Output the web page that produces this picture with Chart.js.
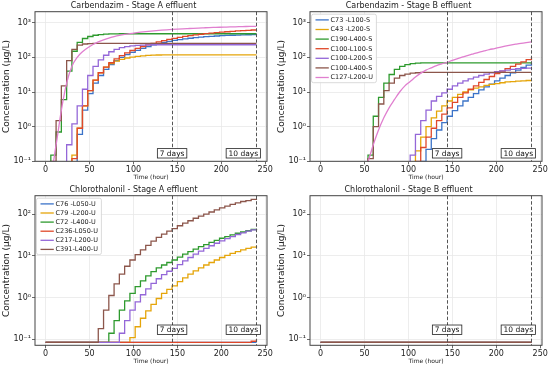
<!DOCTYPE html>
<html>
<head>
<meta charset="utf-8">
<script src="https://cdn.jsdelivr.net/npm/chart.js@4.4.1/dist/chart.umd.min.js"></script>
<style>
  html, body { margin: 0; padding: 0; background: #fff; }
  #wrap { position: relative; width: 550px; height: 368px; }
  .cell { position: absolute; width: 275px; height: 184px; }
</style>
</head>
<body>
<div id="wrap">
  <div class="cell" style="left:0;top:0"><canvas id="cA" width="275" height="184"></canvas></div>
  <div class="cell" style="left:275px;top:0"><canvas id="cB" width="275" height="184"></canvas></div>
  <div class="cell" style="left:0;top:184px"><canvas id="cC" width="275" height="184"></canvas></div>
  <div class="cell" style="left:275px;top:184px"><canvas id="cD" width="275" height="184"></canvas></div>
</div>
<script>
// time axis (hours), one value every dosing step
const hours = [0,6,12,18,24,30,36,42,48,54,60,66,72,78,84,90,96,102,108,114,120,
               126,132,138,144,150,156,162,168,174,180,186,192,198,204,210,216,222,228,234,240];
const xTicks = [0, 50, 100, 150, 200, 250];
const yTicksTop = [0.1, 1, 10, 100, 1000];
const yTicksBottom = [0.1, 1, 10, 100];
const yTickText = { '0.1': '10⁻¹', '1': '10⁰', '10': '10¹', '100': '10²', '1000': '10³' };
const markerHours = [144, 240];
const markerText = ['7 days', '10 days'];

// Carbendazim
const carbLabels = ['C73 -L100-S', 'C43 -L200-S', 'C190-L400-S', 'C100-L100-S', 'C100-L200-S', 'C100-L400-S', 'C127-L200-U'];

const carbA_c73 = [0.05,0.05,0.05,0.05,0.05,0.08,0.6,3,9,18,30,45,62,80,100,120,140,160,182,205,228,
                   250,270,290,308,325,341,356,370,383,395,405,414,422,429,435,440,445,449,452,455];
const carbA_c43 = [0.05,0.05,0.05,0.05,0.05,0.15,0.9,4,11,22,36,52,66,78,88,96,102,107,111,114,116,
                   117,118,118,118,118,118,118,118,118,118,118,118,118,118,118,118,118,118,118,118];
const carbA_c190 = [0.05,0.15,0.7,6,40,150,270,350,400,435,455,467,474,478,480,480,480,480,480,480,480,
                    480,480,480,480,480,480,480,480,480,480,480,480,480,480,480,480,480,480,480,480];
const carbA_c100a = [0.05,0.05,0.05,0.05,0.05,0.12,0.9,4,11,22,36,52,70,90,112,135,158,182,206,230,255,
                     280,305,330,354,378,401,423,444,464,483,501,518,534,549,564,578,592,605,617,628];
const carbA_c100b = [0.05,0.05,0.05,0.05,0.3,1.2,4,12,30,55,85,115,145,170,190,204,214,221,226,229,231,
                     231,231,231,231,231,231,231,231,231,231,231,231,231,231,231,231,231,231,231,231];
const carbA_c100c = [0.05,0.1,1.5,15,80,170,225,243,250,252,252,252,252,252,252,252,252,252,252,252,252,
                     252,252,252,252,252,252,252,252,252,252,252,252,252,252,252,252,252,252,252,252];
const carbA_c127 = [0.05,0.05,0.3,3,18,55,100,145,190,235,280,320,360,395,428,458,485,510,533,554,574,
                    592,609,625,640,654,667,679,691,702,712,722,731,740,748,756,763,770,777,783,789];

const carbB_c73 = [0.05,0.05,0.05,0.05,0.05,0.05,0.05,0.05,0.05,0.05,0.05,0.05,0.05,0.05,0.05,0.05,0.05,0.05,0.05,0.1,0.22,
                   0.45,0.8,1.3,2,2.9,4,5.5,7,9,11.5,14,17,21,25,30,36,43,51,60,70];
const carbB_c43 = [0.05,0.05,0.05,0.05,0.05,0.05,0.05,0.05,0.05,0.05,0.05,0.05,0.05,0.05,0.05,0.05,0.05,0.08,0.2,0.5,1,
                   1.8,2.8,4,5.5,7,8.5,10,11.5,13,14,15.5,16.5,17.5,18.5,19.5,20,20.5,21,21.5,22];
const carbB_c190 = [0.05,0.05,0.05,0.05,0.05,0.05,0.05,0.05,0.05,0.15,2,7,18,32,45,55,62,66,68,69,69,
                    69,69,69,69,69,69,69,69,69,69,69,69,69,69,69,69,69,69,69,69];
const carbB_c100a = [0.05,0.05,0.05,0.05,0.05,0.05,0.05,0.05,0.05,0.05,0.05,0.05,0.05,0.05,0.05,0.05,0.05,0.05,0.1,0.25,0.5,
                     0.9,1.5,2.3,3.5,5,7,9.5,12,15,19,23,28,34,40,47,55,64,74,86,100];
const carbB_c100b = [0.05,0.05,0.05,0.05,0.05,0.05,0.05,0.05,0.05,0.05,0.05,0.05,0.05,0.05,0.05,0.05,0.05,0.15,0.6,1.5,3,
                     5.5,7.5,9.5,12,15,18,21,24,27,30,33,36,39,41,43,45,47,48,49,50];
const carbB_c100c = [0.05,0.05,0.05,0.05,0.05,0.05,0.05,0.05,0.05,0.12,1,4.5,11,18,25,30,33,35,36,37,37,
                     37,37,37,37,37,37,37,37,37,37,37,37,37,37,37,37,37,37,37,37];
const carbB_c127 = [0.05,0.05,0.05,0.05,0.05,0.05,0.05,0.05,0.05,0.1,0.3,0.8,1.8,3.5,6,10,15,20,27,35,43,
                    50,58,65,72,82,92,103,115,127,140,153,167,180,195,210,225,240,255,268,280];

// Chlorothalonil
const chloroLabels = ['C76 -L050-U', 'C79 -L200-U', 'C72 -L400-U', 'C236-L050-U', 'C217-L200-U', 'C391-L400-U'];

const chloroA_c76 = [0.085,0.085,0.085,0.085,0.085,0.085,0.085,0.085,0.085,0.085,0.085,0.085,0.085,0.085,0.085,0.085,0.085,0.085,0.085,0.085,0.085,
                     0.085,0.085,0.085,0.085,0.085,0.085,0.085,0.085,0.085,0.085,0.085,0.085,0.085,0.085,0.085,0.085,0.085,0.085,0.085,0.085];
const chloroA_c79 = [0.085,0.085,0.085,0.085,0.085,0.085,0.085,0.085,0.085,0.085,0.085,0.085,0.085,0.085,0.085,0.085,0.11,0.2,0.32,0.48,0.69,
                     0.95,1.26,1.58,1.91,2.4,2.95,3.63,4.37,5.13,6.03,6.92,7.94,9.12,10.2,11.5,12.6,13.8,15.1,16.2,17.4];
const chloroA_c72 = [0.085,0.085,0.085,0.085,0.085,0.085,0.085,0.085,0.085,0.085,0.085,0.085,0.14,0.28,0.5,0.83,1.26,1.82,2.51,3.31,4.17,
                     5.13,6.03,6.92,7.94,9.33,11,12.6,14.5,16.6,18.6,20.9,23.4,26.3,28.8,31.6,34.7,37.2,39.8,42.7,44.7];
const chloroA_c236 = [0.085,0.085,0.085,0.085,0.085,0.085,0.085,0.085,0.085,0.085,0.085,0.085,0.085,0.085,0.085,0.085,0.085,0.085,0.085,0.085,0.085,
                      0.085,0.085,0.085,0.085,0.085,0.085,0.085,0.085,0.085,0.085,0.085,0.085,0.085,0.085,0.085,0.085,0.085,0.085,0.09,0.1];
const chloroA_c217 = [0.085,0.085,0.085,0.085,0.085,0.085,0.085,0.085,0.085,0.085,0.085,0.085,0.085,0.085,0.14,0.28,0.5,0.79,1.17,1.62,2.19,
                      2.82,3.55,4.27,5.01,6.17,7.59,9.12,11,12.9,15.1,17.4,20,22.9,25.7,28.8,32.4,35.5,38.9,41.7,44.7];
const chloroA_c391 = [0.085,0.085,0.085,0.085,0.085,0.085,0.085,0.085,0.085,0.085,0.18,0.5,1.12,2.14,3.63,5.62,7.94,10.7,13.8,17.8,22.4,
                      27.5,33.1,38.9,44.7,52.5,60.3,69.2,79.4,89.1,100,112,126,141,155,170,186,200,209,224,234];

const chloroB_floor = [0.085,0.085,0.085,0.085,0.085,0.085,0.085,0.085,0.085,0.085,0.085,0.085,0.085,0.085,0.085,0.085,0.085,0.085,0.085,0.085,0.085,
                       0.085,0.085,0.085,0.085,0.085,0.085,0.085,0.085,0.085,0.085,0.085,0.085,0.085,0.085,0.085,0.085,0.085,0.085,0.085,0.085];

const palette = ['#3b73c8', '#e5a50a', '#2e9a2e', '#e0482a', '#9467d8', '#8c564b', '#e07fcf'];
const FONT = 'DejaVu Sans';
Chart.defaults.font.family = FONT;

// frame, 7/10 day markers and an in-axes legend, drawn like the matplotlib figure
const decor = {
  id: 'decor',
  afterDatasetsDraw(chart, args, opts) {
    const { ctx, chartArea: a, scales: { x, y } } = chart;
    ctx.save();
    ctx.strokeStyle = '#555';
    ctx.lineWidth = 1;
    ctx.setLineDash([3.5, 2]);
    markerHours.forEach(h => {
      const px = Math.round(x.getPixelForValue(h)) + 0.5;
      ctx.beginPath(); ctx.moveTo(px, a.top); ctx.lineTo(px, a.bottom); ctx.stroke();
    });
    ctx.setLineDash([]);
    ctx.strokeStyle = '#444';
    ctx.strokeRect(a.left, a.top, a.width, a.height);

    ctx.font = '7.5px "' + FONT + '"';
    ctx.textBaseline = 'middle';
    ctx.textAlign = 'center';
    opts.textX.forEach((tx, i) => {
      const cx = x.getPixelForValue(tx);
      const cy = y.getPixelForValue(0.17);
      const w = ctx.measureText(markerText[i]).width + 4.6;
      ctx.fillStyle = '#fff';
      ctx.fillRect(cx - w / 2, cy - 4.7, w, 9.4);
      ctx.strokeStyle = '#222';
      ctx.lineWidth = 0.8;
      ctx.strokeRect(cx - w / 2, cy - 4.7, w, 9.4);
      ctx.fillStyle = '#111';
      ctx.fillText(markerText[i], cx, cy + 0.3);
    });

    if (opts.legend) {
      const sets = chart.data.datasets;
      const rowH = opts.rowH;
      ctx.font = '6.5px "' + FONT + '"';
      const tw = Math.max(...sets.map(d => ctx.measureText(d.label).width));
      const bx = a.left + 1.5, by = a.top + 2.5;
      const bw = 19 + tw + 3.5, bh = 5.7 + (sets.length - 1) * rowH + 5.2;
      ctx.fillStyle = 'rgba(255,255,255,0.85)';
      ctx.strokeStyle = '#d0d0d0';
      ctx.lineWidth = 0.8;
      ctx.beginPath();
      ctx.roundRect(bx, by, bw, bh, 2);
      ctx.fill(); ctx.stroke();
      ctx.textAlign = 'left';
      sets.forEach((d, i) => {
        const cy = by + 5.7 + i * rowH;
        ctx.strokeStyle = d.borderColor;
        ctx.lineWidth = 1.3;
        ctx.beginPath(); ctx.moveTo(bx + 4, cy); ctx.lineTo(bx + 17.3, cy); ctx.stroke();
        ctx.fillStyle = '#222';
        ctx.fillText(d.label, bx + 19, cy + 0.3);
      });
    }
    ctx.restore();
  }
};

function buildSets(labels, series, smoothIdx) {
  return series.map((vals, i) => ({
    label: labels[i],
    data: vals.map((v, k) => ({ x: hours[k], y: v })),
    borderColor: palette[i],
    backgroundColor: palette[i],
    borderWidth: 1.3,
    pointRadius: 0,
    stepped: i === smoothIdx ? false : 'before',
    cubicInterpolationMode: 'monotone',
    fill: false,
    order: -i
  }));
}

function makeChart(id, title, datasets, yMin, yMax, yTicks, legend, rowH) {
  new Chart(document.getElementById(id), {
    type: 'line',
    data: { datasets },
    plugins: [decor],
    options: {
      responsive: false,
      animation: false,
      devicePixelRatio: 1,
      layout: { padding: { left: 0, right: 8, top: 0, bottom: 0 } },
      plugins: {
        legend: { display: false },
        tooltip: { enabled: false },
        title: {
          display: true, text: title, color: '#222',
          font: { size: 8, weight: 'normal' },
          padding: { top: 1.2, bottom: 0.9 }
        },
        decor: { legend, rowH, textX: [144, 225] }
      },
      scales: {
        x: {
          type: 'linear', min: -12, max: 252,
          afterBuildTicks: s => { s.ticks = xTicks.map(v => ({ value: v })); },
          afterFit: s => { s.height = 22.7; },
          grid: { color: '#e8e8e8', lineWidth: 0.8, tickLength: 3, tickColor: '#444' },
          border: { display: false },
          ticks: { color: '#222', font: { size: 8 }, padding: 0.5, maxRotation: 0, autoSkip: false },
          title: { display: true, text: 'Time (hour)', color: '#222', font: { size: 6 }, padding: { top: 0, bottom: 2.7 } }
        },
        y: {
          type: 'logarithmic', min: yMin, max: yMax,
          afterBuildTicks: s => { s.ticks = yTicks.map(v => ({ value: v })); },
          afterFit: s => { s.width = 35; },
          grid: { color: '#e8e8e8', lineWidth: 0.8, tickLength: 3, tickColor: '#444' },
          border: { display: false },
          ticks: { color: '#222', font: { size: 8 }, padding: 1, autoSkip: false,
                   callback: v => yTickText[String(v)] || '' },
          title: { display: true, text: 'Concentration (µg/L)', color: '#222', font: { size: 9 }, padding: { top: 1.2, bottom: 0 } }
        }
      }
    }
  });
}

makeChart('cA', 'Carbendazim - Stage A effluent',
  buildSets(carbLabels, [carbA_c73, carbA_c43, carbA_c190, carbA_c100a, carbA_c100b, carbA_c100c, carbA_c127], 6),
  0.1, 2080, yTicksTop, false, 9.6);
makeChart('cB', 'Carbendazim - Stage B effluent',
  buildSets(carbLabels, [carbB_c73, carbB_c43, carbB_c190, carbB_c100a, carbB_c100b, carbB_c100c, carbB_c127], 6),
  0.1, 2080, yTicksTop, true, 9.6);
makeChart('cC', 'Chlorothalonil - Stage A effluent',
  buildSets(chloroLabels, [chloroA_c76, chloroA_c79, chloroA_c72, chloroA_c236, chloroA_c217, chloroA_c391], -1),
  0.072, 275, yTicksBottom, true, 9.1);
makeChart('cD', 'Chlorothalonil - Stage B effluent',
  buildSets(chloroLabels, [chloroB_floor, chloroB_floor, chloroB_floor, chloroB_floor, chloroB_floor, chloroB_floor], -1),
  0.072, 275, yTicksBottom, false, 9.1);
</script>
</body>
</html>
